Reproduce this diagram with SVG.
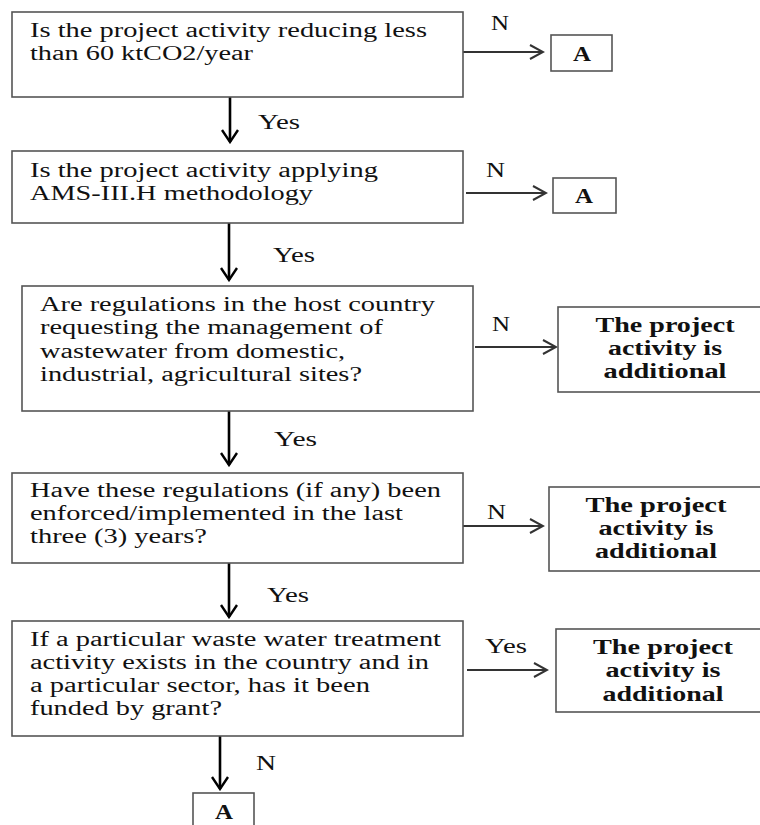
<svg xmlns="http://www.w3.org/2000/svg" width="760" height="825" viewBox="0 0 760 825">
<style>
.box{fill:#fff;stroke:#555;stroke-width:1.6}
.t{font-family:"Liberation Serif","Times New Roman",serif;font-size:20px;fill:#111}
.b{font-family:"Liberation Serif","Times New Roman",serif;font-size:20px;font-weight:bold;fill:#111}
.h{stroke:#333;stroke-width:2;fill:none}
.v{stroke:#000;stroke-width:2.6;fill:none}
</style>
<defs>
<marker id="ah" markerUnits="userSpaceOnUse" viewBox="-14 -9 16 18" refX="0" refY="0" markerWidth="16" markerHeight="18" orient="auto">
<path d="M-13,-7 L0,0 L-13,7" fill="none" stroke="#333" stroke-width="2"/>
</marker>
<marker id="av" markerUnits="userSpaceOnUse" viewBox="-14 -10 16 20" refX="0" refY="0" markerWidth="16" markerHeight="20" orient="auto">
<path d="M-12,-8 L0,0 L-12,8" fill="none" stroke="#000" stroke-width="2.4"/>
</marker>
</defs>
<rect width="760" height="825" fill="#fff"/>

<g id="connectors">
<line class="h" x1="463" y1="52" x2="543" y2="52" marker-end="url(#ah)"/>
<line class="h" x1="466" y1="193" x2="546" y2="193" marker-end="url(#ah)"/>
<line class="h" x1="475" y1="347" x2="556" y2="347" marker-end="url(#ah)"/>
<line class="h" x1="463" y1="526" x2="543" y2="526" marker-end="url(#ah)"/>
<line class="h" x1="467" y1="670" x2="547" y2="670" marker-end="url(#ah)"/>
<line class="v" x1="230" y1="97" x2="230" y2="142" marker-end="url(#av)"/>
<line class="v" x1="229" y1="223" x2="229" y2="280" marker-end="url(#av)"/>
<line class="v" x1="229" y1="411" x2="229" y2="465" marker-end="url(#av)"/>
<line class="v" x1="229" y1="563" x2="229" y2="617" marker-end="url(#av)"/>
<line class="v" x1="220" y1="736" x2="220" y2="789" marker-end="url(#av)"/>
<text class="t" x="491" y="30" textLength="18" lengthAdjust="spacingAndGlyphs">N</text>
<text class="t" x="486" y="177" textLength="19" lengthAdjust="spacingAndGlyphs">N</text>
<text class="t" x="492" y="331" textLength="18" lengthAdjust="spacingAndGlyphs">N</text>
<text class="t" x="487" y="519" textLength="19" lengthAdjust="spacingAndGlyphs">N</text>
<text class="t" x="485" y="653" textLength="42" lengthAdjust="spacingAndGlyphs">Yes</text>
<text class="t" x="258" y="129" textLength="42" lengthAdjust="spacingAndGlyphs">Yes</text>
<text class="t" x="273" y="262" textLength="42" lengthAdjust="spacingAndGlyphs">Yes</text>
<text class="t" x="274" y="446" textLength="43" lengthAdjust="spacingAndGlyphs">Yes</text>
<text class="t" x="267" y="602" textLength="42" lengthAdjust="spacingAndGlyphs">Yes</text>
<text class="t" x="256" y="770" textLength="20" lengthAdjust="spacingAndGlyphs">N</text>
</g>

<g id="q1">
<rect class="box" x="12" y="12" width="451" height="85"/>
<text class="t" x="30" y="37" textLength="397" lengthAdjust="spacingAndGlyphs">Is the project activity reducing less</text>
<text class="t" x="30" y="60" textLength="223" lengthAdjust="spacingAndGlyphs">than 60 ktCO2/year</text>
</g>
<g id="a1">
<rect class="box" x="551" y="35" width="61" height="36"/>
<text class="b" x="582" y="61" text-anchor="middle" textLength="18" lengthAdjust="spacingAndGlyphs">A</text>
</g>

<g id="q2">
<rect class="box" x="12" y="151" width="451" height="72"/>
<text class="t" x="30" y="177" textLength="348" lengthAdjust="spacingAndGlyphs">Is the project activity applying</text>
<text class="t" x="30" y="200" textLength="283" lengthAdjust="spacingAndGlyphs">AMS-III.H methodology</text>
</g>
<g id="a2">
<rect class="box" x="553" y="178" width="63" height="35"/>
<text class="b" x="584" y="203" text-anchor="middle" textLength="18" lengthAdjust="spacingAndGlyphs">A</text>
</g>

<g id="q3">
<rect class="box" x="22" y="286" width="451" height="125"/>
<text class="t" x="40" y="311" textLength="395" lengthAdjust="spacingAndGlyphs">Are regulations in the host country</text>
<text class="t" x="40" y="334" textLength="343" lengthAdjust="spacingAndGlyphs">requesting the management of</text>
<text class="t" x="40" y="358" textLength="305" lengthAdjust="spacingAndGlyphs">wastewater from domestic,</text>
<text class="t" x="40" y="381" textLength="322" lengthAdjust="spacingAndGlyphs">industrial, agricultural sites?</text>
</g>
<g id="r3">
<rect class="box" x="558" y="307" width="210" height="85"/>
<text class="b" x="665" y="332" text-anchor="middle" textLength="139" lengthAdjust="spacingAndGlyphs">The project</text>
<text class="b" x="665" y="355" text-anchor="middle" textLength="114" lengthAdjust="spacingAndGlyphs">activity is</text>
<text class="b" x="665" y="378" text-anchor="middle" textLength="123" lengthAdjust="spacingAndGlyphs">additional</text>
</g>

<g id="q4">
<rect class="box" x="12" y="473" width="451" height="90"/>
<text class="t" x="30" y="497" textLength="411" lengthAdjust="spacingAndGlyphs">Have these regulations (if any) been</text>
<text class="t" x="30" y="520" textLength="373" lengthAdjust="spacingAndGlyphs">enforced/implemented in the last</text>
<text class="t" x="30" y="543" textLength="177" lengthAdjust="spacingAndGlyphs">three (3) years?</text>
</g>
<g id="r4">
<rect class="box" x="549" y="487" width="220" height="84"/>
<text class="b" x="656" y="512" text-anchor="middle" textLength="141" lengthAdjust="spacingAndGlyphs">The project</text>
<text class="b" x="656" y="535" text-anchor="middle" textLength="115" lengthAdjust="spacingAndGlyphs">activity is</text>
<text class="b" x="656" y="558" text-anchor="middle" textLength="122" lengthAdjust="spacingAndGlyphs">additional</text>
</g>

<g id="q5">
<rect class="box" x="12" y="621" width="451" height="115"/>
<text class="t" x="30" y="646" textLength="411" lengthAdjust="spacingAndGlyphs">If a particular waste water treatment</text>
<text class="t" x="30" y="669" textLength="399" lengthAdjust="spacingAndGlyphs">activity exists in the country and in</text>
<text class="t" x="30" y="692" textLength="340" lengthAdjust="spacingAndGlyphs">a particular sector, has it been</text>
<text class="t" x="30" y="715" textLength="192" lengthAdjust="spacingAndGlyphs">funded by grant?</text>
</g>
<g id="r5">
<rect class="box" x="556" y="629" width="212" height="83"/>
<text class="b" x="663" y="654" text-anchor="middle" textLength="140" lengthAdjust="spacingAndGlyphs">The project</text>
<text class="b" x="663" y="677" text-anchor="middle" textLength="115" lengthAdjust="spacingAndGlyphs">activity is</text>
<text class="b" x="663" y="701" text-anchor="middle" textLength="121" lengthAdjust="spacingAndGlyphs">additional</text>
</g>

<g id="a3">
<rect class="box" x="193" y="793" width="61" height="40"/>
<text class="b" x="224" y="819" text-anchor="middle" textLength="18" lengthAdjust="spacingAndGlyphs">A</text>
</g>
</svg>
